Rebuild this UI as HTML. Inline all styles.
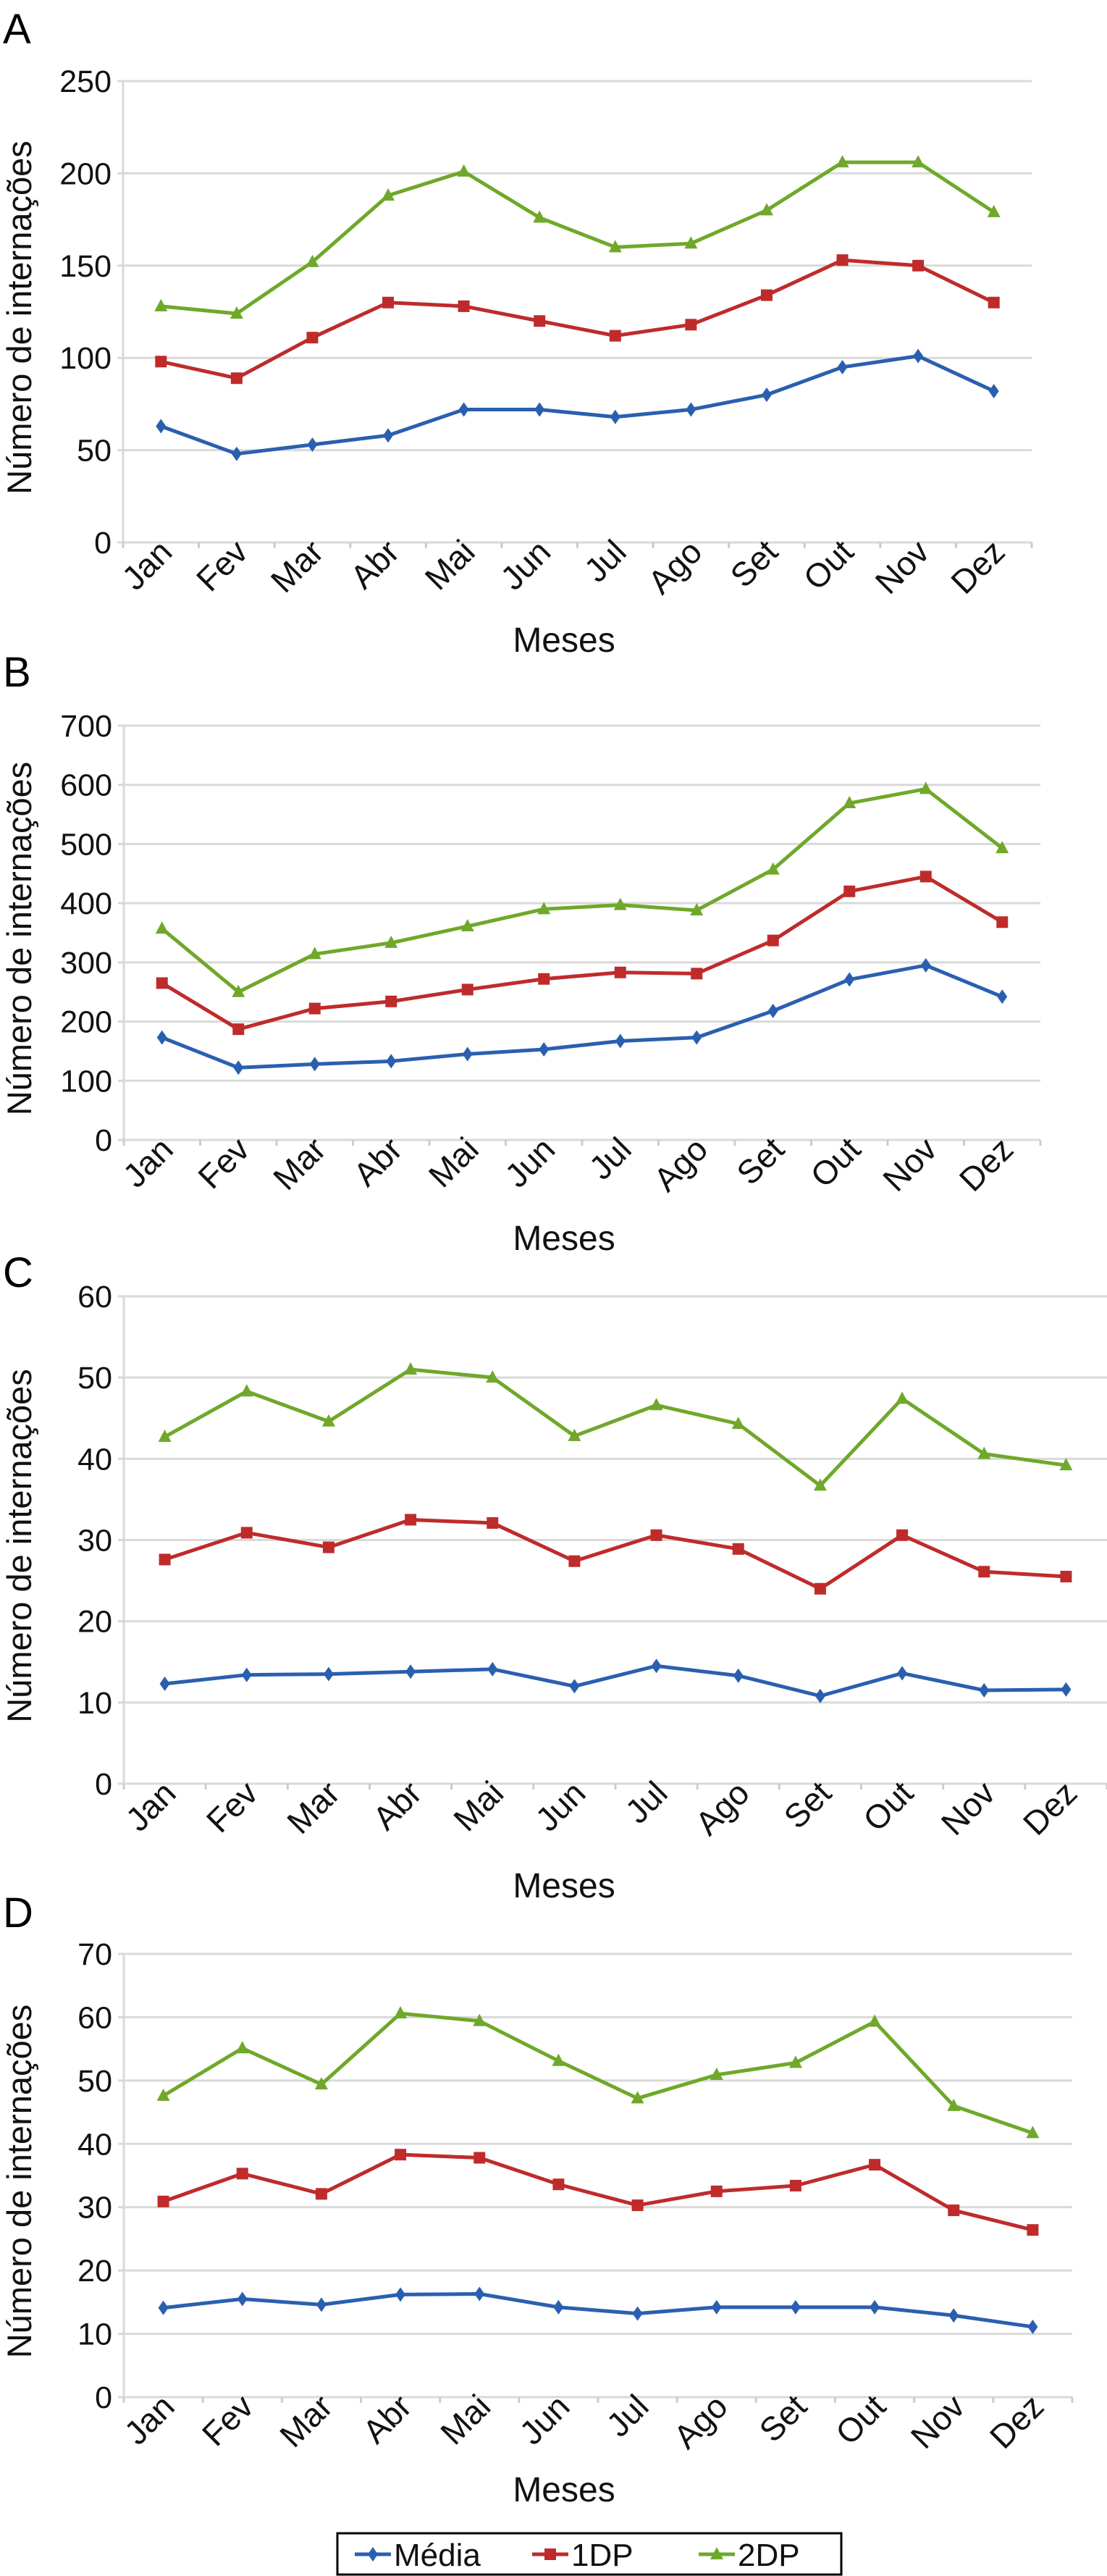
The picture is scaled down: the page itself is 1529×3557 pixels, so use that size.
<!DOCTYPE html>
<html><head><meta charset="utf-8">
<style>
html,body{margin:0;padding:0;background:#fff;}
svg{display:block;font-family:"Liberation Sans",sans-serif;}
</style></head>
<body>
<svg id="chart" width="1529" height="3557" viewBox="0 0 1529 3557" xmlns="http://www.w3.org/2000/svg"></svg>
<script>
const months = ["Jan","Fev","Mar","Abr","Mai","Jun","Jul","Ago","Set","Out","Nov","Dez"];
const seriesNames = ["Média","1DP","2DP"];
const aMedia = [63,48,53,58,72,72,68,72,80,95,101,82];
const a1DP = [98,89,111,130,128,120,112,118,134,153,150,130];
const a2DP = [128,124,152,188,201,176,160,162,180,206,206,179];
const aTicks = [0,50,100,150,200,250];
const bMedia = [173,122,128,133,145,153,167,173,218,271,295,242];
const b1DP = [265,187,222,234,254,272,283,281,337,420,445,368];
const b2DP = [357,250,314,333,361,390,397,388,457,569,593,493];
const bTicks = [0,100,200,300,400,500,600,700];
const cMedia = [12.3,13.4,13.5,13.8,14.1,12,14.5,13.3,10.8,13.6,11.5,11.6];
const c1DP = [27.6,30.9,29.1,32.5,32.1,27.4,30.6,28.9,24,30.6,26.1,25.5];
const c2DP = [42.7,48.3,44.6,51,50,42.8,46.6,44.3,36.7,47.4,40.6,39.2];
const cTicks = [0,10,20,30,40,50,60];
const dMedia = [14.1,15.5,14.6,16.2,16.3,14.2,13.2,14.2,14.2,14.2,12.9,11.1];
const d1DP = [30.9,35.3,32.1,38.3,37.8,33.6,30.3,32.5,33.4,36.7,29.5,26.4];
const d2DP = [47.6,55.1,49.4,60.6,59.4,53.1,47.2,50.9,52.8,59.3,46,41.7];
const dTicks = [0,10,20,30,40,50,60,70];

const colors = ["#2a5fb0","#bf2b2b","#6fa82a"];
const NS = "http://www.w3.org/2000/svg";
const root = document.getElementById("chart");
function mk(tag, attrs, parent){const e=document.createElementNS(NS,tag);for(const k in attrs)e.setAttribute(k,attrs[k]);(parent||root).appendChild(e);return e;}
function marker(g, kind, x, y, col){
  let e;
  if(kind===0){e=mk("polygon",{points:`${x},${y-10} ${x+7},${y} ${x},${y+10} ${x-7},${y}`,fill:col},g);}
  else if(kind===1){e=mk("rect",{x:x-8,y:y-8,width:16,height:16,fill:col},g);}
  else {e=mk("polygon",{points:`${x},${y-10} ${x+9},${y+7} ${x-9},${y+7}`,fill:col},g);}
  return e;
}
const panels = [
 {id:"a",letter:"A",letterY:60,x0:170,x1:1425,yTop:112,yBot:749,max:250,ticks:aTicks,data:[aMedia,a1DP,a2DP],meses:900},
 {id:"b",letter:"B",letterY:948,x0:171,x1:1437,yTop:1002,yBot:1574,max:700,ticks:bTicks,data:[bMedia,b1DP,b2DP],meses:1726},
 {id:"c",letter:"C",letterY:1777,x0:171,x1:1529,yTop:1790,yBot:2463,max:60,ticks:cTicks,data:[cMedia,c1DP,c2DP],meses:2620},
 {id:"d",letter:"D",letterY:2661,x0:171,x1:1481,yTop:2698,yBot:3310,max:70,ticks:dTicks,data:[dMedia,d1DP,d2DP],meses:3454}
];
panels.forEach(p=>{
  const g = mk("g",{});
  
  
  const cw=(p.x1-p.x0)/12;
  const xs=i=>p.x0+cw*(i+0.5);
  const ys=v=>p.yBot-(v/p.max)*(p.yBot-p.yTop);
  const lt=mk("text",{x:4,y:p.letterY,"font-size":58,fill:"#000"},g);lt.textContent=p.letter;
  
  
  p.ticks.forEach(t=>{
    const y=ys(t);
    const gl=mk("line",{x1:p.x0-8,x2:p.x1,y1:y,y2:y,stroke:"#d9d9d9","stroke-width":3},g);
    
    
    const tl=mk("text",{x:p.x0-16,y:y+15,"font-size":43,"text-anchor":"end",fill:"#111"},g);tl.textContent=t;
    
    
  });
  mk("line",{x1:p.x0,x2:p.x0,y1:p.yTop,y2:p.yBot,stroke:"#d9d9d9","stroke-width":3},g);
  for(let i=0;i<=12;i++){const x=p.x0+cw*i;mk("line",{x1:x,x2:x,y1:p.yBot,y2:p.yBot+8,stroke:"#cccccc","stroke-width":3},g);}
  months.forEach((m,i)=>{
    const x=xs(i)+18, y=p.yBot+16;
    const t=mk("text",{x:x,y:y,"font-size":46,"text-anchor":"end",transform:`rotate(-45 ${x} ${y})`,fill:"#111"},g);
    t.textContent=m;
    
    
  });
  const yt=mk("text",{x:0,y:0,"font-size":47,"text-anchor":"middle",transform:`translate(43 ${(p.yTop+p.yBot)/2+8}) rotate(-90)`,fill:"#111"},g);
  yt.textContent="Número de internações";
  
  
  const xt=mk("text",{x:779,y:p.meses,"font-size":48,"text-anchor":"middle",fill:"#111"},g);
  xt.textContent="Meses";
  
  
  p.data.forEach((arr,s)=>{
    const pts=arr.map((v,i)=>xs(i)+","+ys(v)).join(" ");
    const pl=mk("polyline",{points:pts,fill:"none",stroke:colors[s],"stroke-width":5,"stroke-linejoin":"round"},g);
    
    
    arr.forEach((v,i)=>{
      const mkr=marker(g,s,xs(i),ys(v),colors[s]);
      
      
    });
  });
});
// legend
const lg=mk("g",{});


mk("rect",{x:466,y:3498,width:696,height:57,fill:"#fff",stroke:"#000","stroke-width":3},lg);
const legX=[490,735,965];
seriesNames.forEach((n,s)=>{
  const x=legX[s], y=3527;
  mk("line",{x1:x,x2:x+50,y1:y,y2:y,stroke:colors[s],"stroke-width":5},lg);
  marker(lg,s,x+25,y,colors[s]);
  const t=mk("text",{x:x+54,y:y+16,"font-size":44,fill:"#111"},lg);
  t.textContent=n;
  
  
});
</script>
</body></html>
